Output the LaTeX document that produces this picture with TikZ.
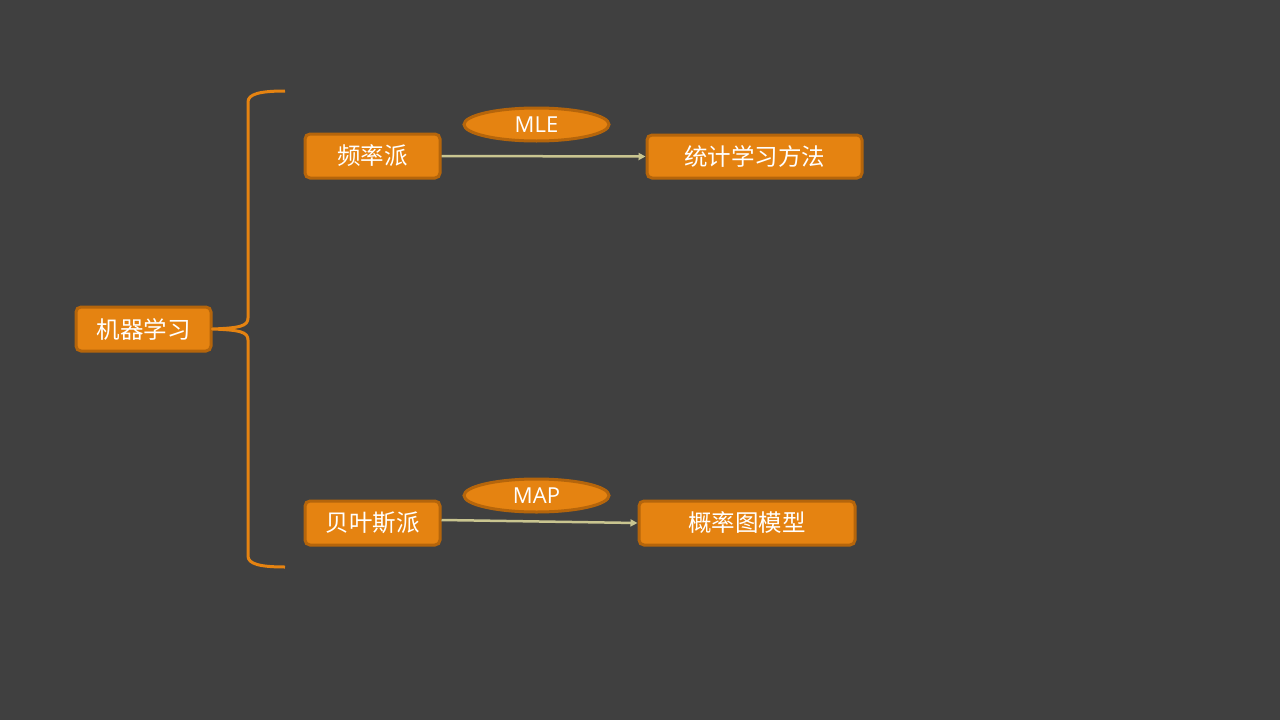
\documentclass[tikz,border=0pt]{standalone}
\usepackage{fontspec}
\setmainfont{Open Sans}
\newfontfamily\cjk{Noto Sans CJK SC}
\usetikzlibrary{shapes.geometric,arrows.meta}
\definecolor{bg}{HTML}{404040}
\definecolor{boxfill}{HTML}{E58311}
\definecolor{boxline}{HTML}{B5650B}
\definecolor{arrowc}{HTML}{C9C590}
\tikzset{
  x=1pt,y=-1pt,
  box/.style={draw=boxline,fill=boxfill,line width=3pt,rounded corners=5pt,text=white,font=\cjk\fontsize{23.5}{26}\selectfont,inner sep=0pt,anchor=center},
  oval/.style={ellipse,draw=boxline,fill=boxfill,line width=3pt,text=white,font=\fontsize{22}{24}\selectfont,inner sep=0pt,anchor=center},
  link/.style={draw=arrowc,line width=2.5pt,-{Triangle[length=7pt,width=7pt]}},
}
\begin{document}
\begin{tikzpicture}
\fill[bg] (0,0) rectangle (1280,720);
\useasboundingbox (0,0) rectangle (1280,720);
\node[box,minimum width=135pt,minimum height=44pt] (ml) at (143.5,329) {机器学习};
\node[box,minimum width=135pt,minimum height=44pt] (freq) at (372.5,156) {频率派};
\node[box,minimum width=135pt,minimum height=44pt] (bayes) at (372.5,523) {贝叶斯派};
\node[box,minimum width=215pt,minimum height=43pt] (stat) at (754.5,156.5) {统计学习方法};
\node[box,minimum width=216pt,minimum height=44pt] (pgm) at (747,523) {概率图模型};
\node[oval,minimum width=145pt,minimum height=33pt] (mle) at (536.5,124.5) {MLE};
\node[oval,minimum width=145pt,minimum height=33pt] (map) at (536.5,495.5) {MAP};
\coordinate (bt) at (285,91);
\coordinate (bb) at (285,567);
\draw[boxfill,line width=3pt,line join=round]
  (bt) .. controls (260,91) and (248,94) .. (248,102)
  -- (248,318) .. controls (248,326) and (240,328) .. (ml.east)
  .. controls (240,330) and (248,332) .. (248,340)
  -- (248,556) .. controls (248,564) and (260,567) .. (bb);
\draw[link] (freq.east) -- (stat.west);
\draw[link] (bayes.east |- 0,520) -- (pgm.west);
\end{tikzpicture}
\end{document}
